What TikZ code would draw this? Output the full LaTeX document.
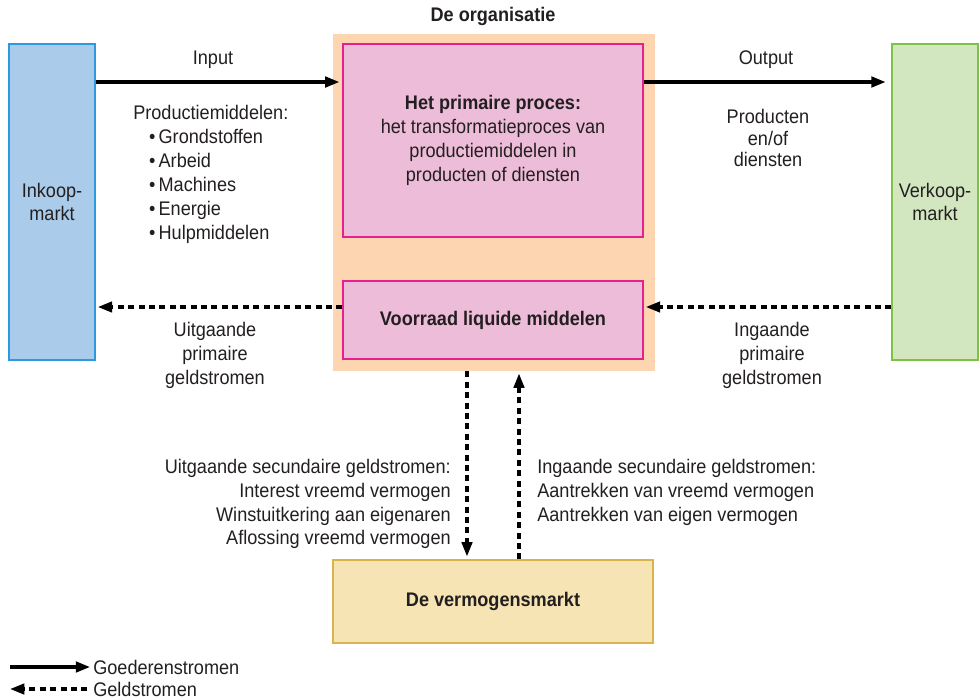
\documentclass[tikz,border=0pt]{standalone}
\usepackage{fontspec}
\setmainfont{Liberation Sans}[FakeStretch=0.92]
\usetikzlibrary{arrows.meta}
\definecolor{inkfill}{HTML}{AACBEA}
\definecolor{inkline}{HTML}{2B9AE0}
\definecolor{orgfill}{HTML}{FDD5B1}
\definecolor{procfill}{HTML}{EDBCD9}
\definecolor{procline}{HTML}{E4218F}
\definecolor{verkfill}{HTML}{D2E6C0}
\definecolor{verkline}{HTML}{7DC242}
\definecolor{vermfill}{HTML}{F6E4B4}
\definecolor{vermline}{HTML}{D8B54A}
\definecolor{txt}{HTML}{231F20}
\tikzset{
	box/.style={draw, line width=0.9pt, align=center, inner sep=0pt},
	goods/.style={line width=2.4pt, -{Triangle[length=3.6mm,width=2.6mm]}},
	money/.style={line width=2.25pt, dash pattern=on 1.5mm off 1.1mm, -{Triangle[length=3.6mm,width=2.6mm]}},
	lbl/.style={align=center, inner sep=0pt}
}

\begin{document}
\begin{tikzpicture}[x=0.025cm, y=-0.025cm, font=\fontsize{14}{17}\selectfont, text=txt]
			\useasboundingbox (0,0) rectangle (980,699);
			\node[fill=orgfill, minimum width=8.05cm, minimum height=8.425cm] (org) at (494,202.5) {};
			\node[font=\fontsize{14}{17}\selectfont\bfseries] (orgtitle) at (493,16) {De organisatie};
			\node[box, draw=inkline, fill=inkfill, minimum width=2.15cm, minimum height=7.9cm] (inkoop) at (52,202) {Inkoop-\\markt};
			\node[box, draw=verkline, fill=verkfill, minimum width=2.15cm, minimum height=7.9cm] (verkoop) at (935,202) {Verkoop-\\markt};
			\node[box, draw=procline, fill=procfill, minimum width=7.5cm, minimum height=4.825cm] (proces) at (493,140.5) {\textbf{Het primaire proces:}\\het transformatieproces van\\productiemiddelen in\\producten of diensten};
			\node[box, draw=procline, fill=procfill, minimum width=7.5cm, minimum height=1.95cm, font=\fontsize{14}{17}\selectfont\bfseries] (voorraad) at (493,320) {Voorraad liquide middelen};
			\node[box, draw=vermline, fill=vermfill, minimum width=8cm, minimum height=2.075cm, font=\fontsize{14}{17}\selectfont\bfseries] (verm) at (493,601.5) {De vermogensmarkt};
			\coordinate (goodsY) at (0,82);
			\coordinate (moneyY) at (0,307);
			\coordinate (outX) at (467,0);
			\coordinate (inX) at (519,0);
			\draw[goods] (inkoop.east |- goodsY) -- ([xshift=-2pt]proces.west |- goodsY);
			\draw[goods] (proces.east |- goodsY) -- ([xshift=-4pt]verkoop.west |- goodsY);
			\draw[money] (voorraad.west |- moneyY) -- ([xshift=1.5pt]inkoop.east |- moneyY);
			\draw[money] (verkoop.west |- moneyY) -- ([xshift=1.5pt]voorraad.east |- moneyY);
			\draw[money] (org.south -| outX) -- ([yshift=2pt]verm.north -| outX);
			\draw[money] (verm.north -| inX) -- ([yshift=-1.5pt]org.south -| inX);
			\node[lbl] (input) at (213,60) {Input};
			\node[lbl] (output) at (766,60) {Output};
			\node[lbl, anchor=north west, align=left] (middelen) at (133,105) {Productiemiddelen:\\
				\hspace*{0.8em}\textbullet\,Grondstoffen\\
				\hspace*{0.8em}\textbullet\,Arbeid\\
				\hspace*{0.8em}\textbullet\,Machines\\
				\hspace*{0.8em}\textbullet\,Energie\\
				\hspace*{0.8em}\textbullet\,Hulpmiddelen};
			\node[lbl] (producten) at (768,138) {Producten\\[-1.5pt]en/of\\[-1.5pt]diensten};
			\node[lbl] (uitprim) at (215,355) {Uitgaande\\primaire\\geldstromen};
			\node[lbl] (inprim) at (772,355) {Ingaande\\primaire\\geldstromen};
			\node[lbl, anchor=east, align=right] (uitsec) at (451,504) {Uitgaande secundaire geldstromen:\\Interest vreemd vermogen\\Winstuitkering aan eigenaren\\Aflossing vreemd vermogen};
			\node[lbl, anchor=west, align=left] (insec) at (537,492) {Ingaande secundaire geldstromen:\\Aantrekken van vreemd vermogen\\Aantrekken van eigen vermogen};
			\node[lbl, anchor=west] (goedleg) at (93,667) {Goederenstromen};
			\node[lbl, anchor=west] (geldleg) at (93,689) {Geldstromen};
			\coordinate (goedstart) at (10,667);
			\coordinate (geldend) at (10,689);
			\draw[goods] (goedstart) -- ([xshift=-2pt]goedleg.west);
			\draw[money] ([xshift=-4pt]geldleg.west) -- (geldend);
		\end{tikzpicture}
\end{document}
